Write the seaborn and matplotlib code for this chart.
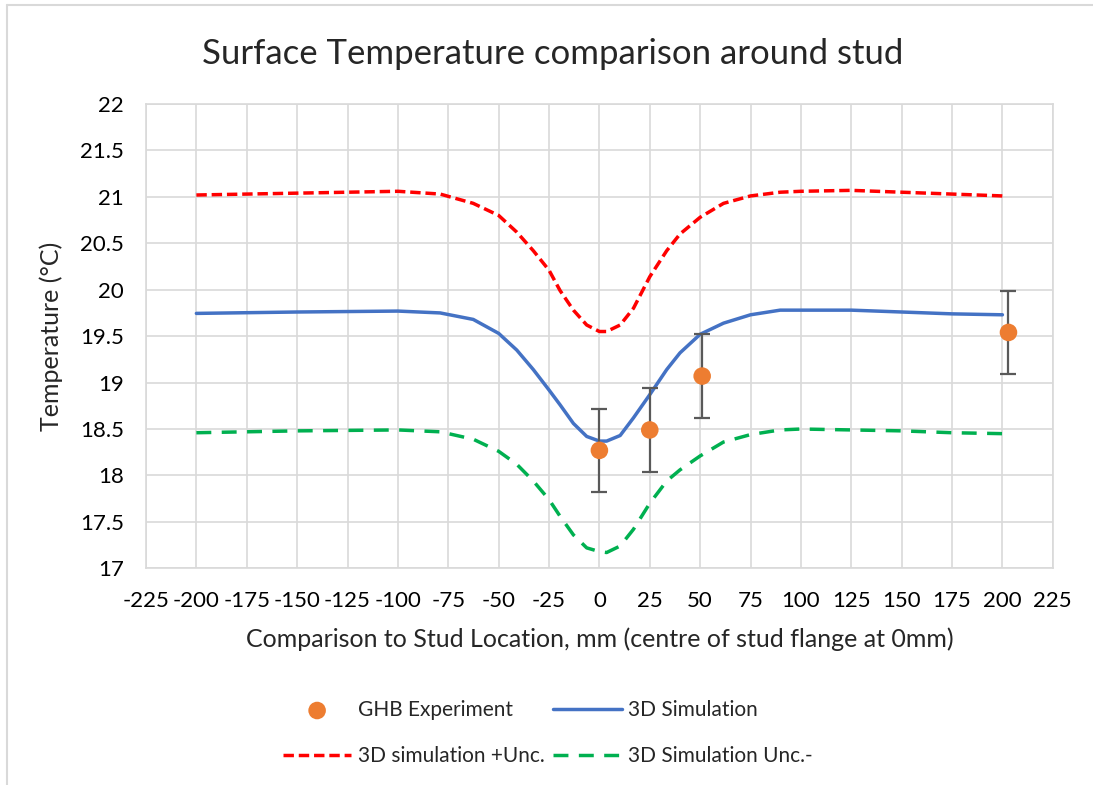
import numpy as np
import pandas as pd
import seaborn as sns
import matplotlib.pyplot as plt
from matplotlib.lines import Line2D

# ---- data ----
sim_x = [-200, -150, -100, -79, -62.6, -50, -41, -32.8, -25, -19.5, -12.9, -6.3, 0, 3.6, 10.3, 16.9,
         25, 33.4, 40, 50, 61.6, 75, 89.7, 100, 125, 150, 175, 200]
sim_mid = [19.745, 19.76, 19.77, 19.75, 19.68, 19.53, 19.35, 19.14, 18.92, 18.76, 18.56, 18.42, 18.37, 18.37, 18.43, 18.62,
           18.87, 19.14, 19.32, 19.52, 19.64, 19.73, 19.78, 19.78, 19.78, 19.76, 19.74, 19.73]
sim_plus = [21.02, 21.04, 21.06, 21.03, 20.93, 20.80, 20.62, 20.42, 20.21, 19.99, 19.78, 19.62, 19.55, 19.55, 19.62, 19.80,
            20.14, 20.42, 20.60, 20.78, 20.93, 21.01, 21.05, 21.06, 21.07, 21.05, 21.03, 21.01]
sim_minus = [18.46, 18.48, 18.49, 18.47, 18.39, 18.26, 18.12, 17.94, 17.74, 17.56, 17.36, 17.22, 17.18, 17.17, 17.24, 17.42,
             17.70, 17.94, 18.06, 18.21, 18.36, 18.44, 18.49, 18.50, 18.49, 18.48, 18.46, 18.45]

exp_x = [0, 25, 51, 203]
exp_y = [18.27, 18.49, 19.07, 19.54]
exp_err = [0.45, 0.45, 0.45, 0.45]

x_ticks = list(range(-225, 226, 25))
y_ticks = [17, 17.5, 18, 18.5, 19, 19.5, 20, 20.5, 21, 21.5, 22]

title = "Surface Temperature comparison around stud"
xlabel = "Comparison to Stud Location, mm (centre of stud flange at 0mm)"
ylabel = "Temperature (\u00b0C)"

# ---- style ----
sns.set_theme(style="white")
plt.rcParams['font.family'] = ['Lato', 'DejaVu Sans']

C_BLUE = "#4472C4"
C_ORANGE = "#ED7D31"
C_RED = "#FF0000"
C_GREEN = "#00B050"
C_GRID = "#D9D9D9"

fig = plt.figure(figsize=(10.93, 7.85), dpi=100)
ax = fig.add_axes([146 / 1093, 1 - 568.3 / 785, (1052.8 - 146) / 1093, (568.3 - 104) / 785])

df = pd.DataFrame({"x": sim_x, "mid": sim_mid, "plus": sim_plus, "minus": sim_minus})

sns.lineplot(data=df, x="x", y="plus", ax=ax, color=C_RED, lw=2.5, label="3D simulation +Unc.")
sns.lineplot(data=df, x="x", y="minus", ax=ax, color=C_GREEN, lw=2.5, label="3D Simulation Unc.-")
sns.lineplot(data=df, x="x", y="mid", ax=ax, color=C_BLUE, lw=2.5, label="3D Simulation")
ax.lines[0].set_dashes((3.0, 1.4))
ax.lines[1].set_dashes((4.3, 3.0))
for ln in ax.lines[:3]:
    ln.set_solid_joinstyle("round")
    ln.set_dash_joinstyle("round")

ax.errorbar(exp_x, exp_y, yerr=exp_err, fmt="none", ecolor="#595959", elinewidth=1.6, capsize=5.5, capthick=1.6, zorder=4)
sns.scatterplot(x=exp_x, y=exp_y, ax=ax, color=C_ORANGE, s=160, edgecolor="none", zorder=5, label="GHB Experiment")

ax.set_xlim(-225, 225)
ax.set_ylim(17, 22)
ax.set_xticks(x_ticks)
ax.set_xticklabels([str(t) for t in x_ticks])
ax.set_yticks(y_ticks)
ax.set_yticklabels([f"{t:g}" for t in y_ticks])
ax.grid(True, color=C_GRID, lw=1.2)
ax.set_axisbelow(True)
for s in ax.spines.values():
    s.set_color(C_GRID)
    s.set_linewidth(1.2)
ax.tick_params(axis="both", length=0, labelsize=16, colors="#000000")
ax.tick_params(axis="x", pad=16)
ax.tick_params(axis="y", pad=16)
ax.set_xlabel(xlabel, fontsize=18, labelpad=12)
ax.set_ylabel(ylabel, fontsize=18, labelpad=12)
ax.set_title(title, fontsize=25, pad=29, x=(553 - 146) / (1052.8 - 146))

ax.get_legend().remove()
h, l = ax.get_legend_handles_labels()
hd = dict(zip(l, h))
order = ["GHB Experiment", "3D simulation +Unc.", "3D Simulation", "3D Simulation Unc.-"]
handles = [hd[k] for k in order]
fig.legend(handles, order, ncol=2, loc="center", bbox_to_anchor=(0.501, 1 - 733 / 785),
           frameon=False, fontsize=15, handlelength=3.3, handletextpad=0.3,
           columnspacing=0.4, labelspacing=1.25)

# chart area border (Excel style)
fig.add_artist(Line2D([7 / 1093, 7 / 1093], [0, 1 - 5 / 785], transform=fig.transFigure, color="#D9D9D9", lw=1.5))
fig.add_artist(Line2D([7 / 1093, 1], [1 - 5 / 785, 1 - 5 / 785], transform=fig.transFigure, color="#D9D9D9", lw=1.5))

fig.savefig("out.png", dpi=100)
